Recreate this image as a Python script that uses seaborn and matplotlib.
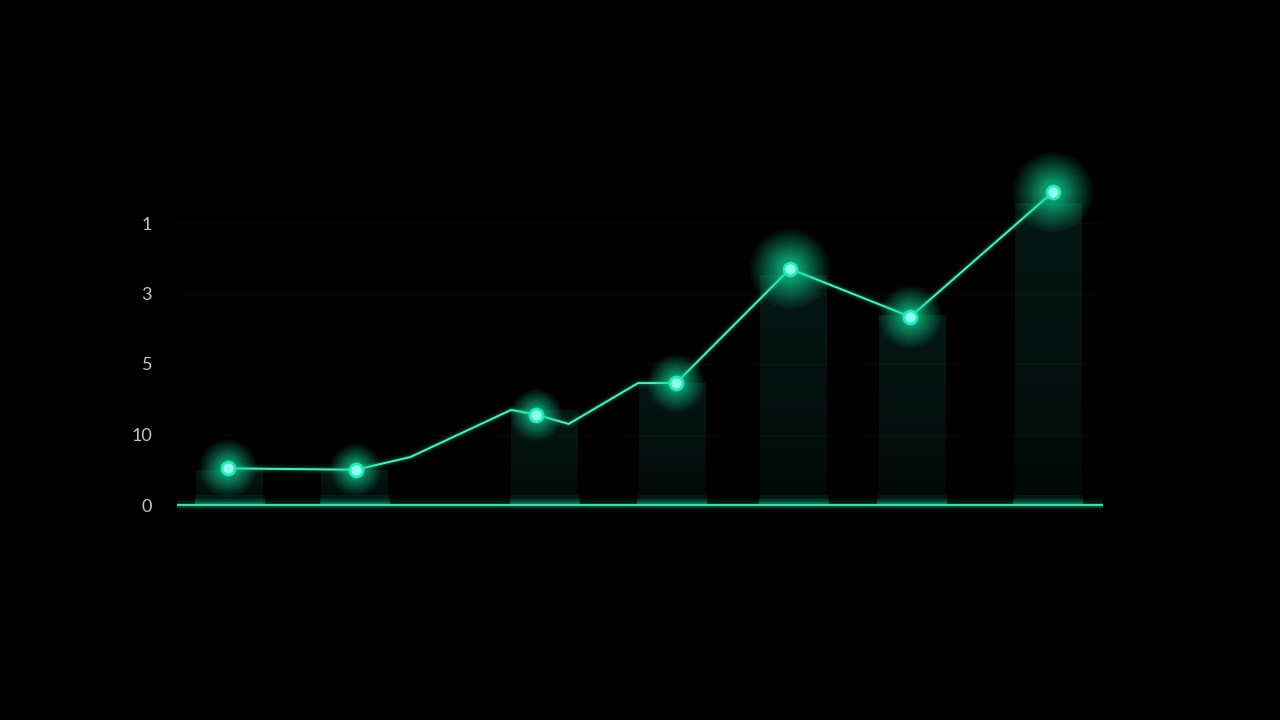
import numpy as np
import pandas as pd
import seaborn as sns
import matplotlib.pyplot as plt

# data (x positions on a 0-10 scale, y in tick units)
line_x = [0.55, 1.93, 2.52, 3.61, 3.88, 4.23, 4.98, 5.39, 6.62, 7.92, 9.46]
line_y = [0.52, 0.50, 0.68, 1.35, 1.28, 1.15, 1.73, 1.73, 3.35, 2.67, 4.44]
marker_x = [0.55, 1.93, 3.88, 5.39, 6.62, 7.92, 9.46]
marker_y = [0.52, 0.50, 1.28, 1.73, 3.35, 2.67, 4.44]
marker_glow = [1.0, 0.9, 0.9, 1.0, 1.4, 1.1, 1.4]
bar_x = [0.57, 1.92, 3.97, 5.35, 6.66, 7.94, 9.41]
bar_h = [0.50, 0.50, 1.35, 1.73, 3.26, 2.70, 4.28]
ytick_pos = [0, 1, 2, 3, 4]
ytick_labels = ["0", "10", "5", "3", "1"]

sns.set_theme(style="dark")
plt.rcParams['font.family'] = ['Lato', 'DejaVu Sans']

fig = plt.figure(figsize=(12.8, 7.2), dpi=100, facecolor="black")
# axes placed so that baseline and ticks fall where the reference has them
unit = 70.5
ax = fig.add_axes([177 / 1280, 1 - 540 / 720, 926 / 1280, 390 / 720])
ax.set_facecolor("black")
ax.set_xlim(0, 10)
ax.set_ylim(-35 / unit, 355 / unit)

glow = "#19e6a6"

# very faint grid
for yv in ytick_pos[1:]:
    ax.axhline(yv, color="#070908", lw=1, zorder=0)

# bars with a soft vertical fade
bw = 0.72
for bx, bh in zip(bar_x, bar_h):
    n = 30
    for i in range(n):
        y0 = bh * i / n
        a = 0.12 + 0.22 * (i / n)
        ax.bar(bx, bh / n, bottom=y0, width=bw, color="#0c4a3a", alpha=a,
               linewidth=0, zorder=1)
    # glow at the bar foot
    for k, a in zip([0.14, 0.08, 0.04], [0.08, 0.12, 0.22]):
        ax.bar(bx, k, bottom=0, width=bw * 1.05, color=glow, alpha=a, linewidth=0, zorder=2)

# baseline
for lw, a in [(10, 0.04), (6, 0.08), (3.5, 0.16)]:
    ax.axhline(0, color=glow, lw=lw, alpha=a, zorder=2)
ax.axhline(0, color="#3ddcaa", lw=1.5, zorder=3)

# line with glow
df = pd.DataFrame({"x": line_x, "y": line_y})
for lw, a in [(8, 0.04), (5, 0.08), (3, 0.16)]:
    sns.lineplot(data=df, x="x", y="y", ax=ax, color=glow, lw=lw, alpha=a,
                 sort=False, estimator=None, zorder=4)
sns.lineplot(data=df, x="x", y="y", ax=ax, color="#4ff0c0", lw=1.4,
             sort=False, estimator=None, zorder=5)

# glowing markers, soft layers concentrated near the core
for s in np.geomspace(1700, 130, 18):
    sns.scatterplot(x=marker_x, y=marker_y, ax=ax,
                    s=[s * g ** 2 for g in marker_glow],
                    color=glow, alpha=0.06, linewidth=0, zorder=6, legend=False)
sns.scatterplot(x=marker_x, y=marker_y, ax=ax, s=130, color="#22eab2",
                linewidth=0, zorder=7, legend=False)
sns.scatterplot(x=marker_x, y=marker_y, ax=ax, s=55, color="#8ffff0",
                linewidth=0, zorder=8, legend=False)
for c in ax.collections:
    c.set_clip_on(False)

ax.set_yticks(ytick_pos)
ax.set_yticklabels(ytick_labels, color="#c4c4c4", fontsize=13)
ax.set_xticks([])
ax.tick_params(axis="y", length=0, pad=18)
ax.set_xlabel("")
ax.set_ylabel("")
ax.grid(False)
for sp in ax.spines.values():
    sp.set_visible(False)

fig.savefig("out.png", dpi=100, facecolor="black")
